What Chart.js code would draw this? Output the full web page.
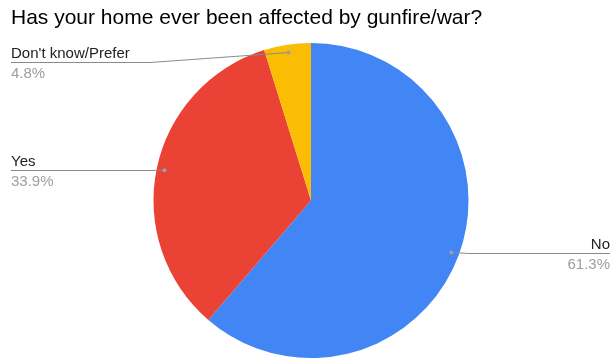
<!DOCTYPE html>
<html>
<head>
<meta charset="utf-8">
<script src="https://cdn.jsdelivr.net/npm/chart.js@4"></script>
<style>
  html, body { margin: 0; padding: 0; background: #fff; }
  #wrap { width: 611px; height: 360px; }
</style>
</head>
<body>
<div id="wrap"><canvas id="Chart"></canvas></div>
<script>
const labels = ['No', 'Yes', "Don't know/Prefer"];
const percents = [61.3, 33.9, 4.8];
const colors = ['#4285f4', '#ea4335', '#fbbc04'];

// leader lines + labels, google-sheets style
const leaderLabels = {
    id: 'leaderLabels',
    afterDatasetsDraw(chart) {
        const ctx = chart.ctx;
        const meta = chart.getDatasetMeta(0);
        const w = chart.width;
        ctx.save();
        meta.data.forEach((arc, i) => {
            const p = arc.getProps(['x', 'y', 'startAngle', 'endAngle', 'outerRadius'], true);
            const mid = (p.startAngle + p.endAngle) / 2;
            const r = p.outerRadius * 0.95;
            const dx = p.x + Math.cos(mid) * r;
            const dy = p.y + Math.sin(mid) * r;
            const left = Math.cos(mid) < 0;
            const ly = Math.round(Math.max(dy, 62)) + 0.5;
            const edge = left ? 11 : w - 1;
            const elbow = left ? Math.min(150, dx) : Math.max(470, dx);

            ctx.strokeStyle = '#8a8a8a';
            ctx.lineWidth = 1;
            ctx.beginPath();
            ctx.moveTo(edge, ly);
            ctx.lineTo(elbow, ly);
            ctx.lineTo(dx, dy);
            ctx.stroke();

            ctx.fillStyle = '#9e9e9e';
            ctx.beginPath();
            ctx.arc(dx, dy, 2, 0, Math.PI * 2);
            ctx.fill();

            ctx.textAlign = left ? 'left' : 'right';
            ctx.textBaseline = 'alphabetic';
            ctx.font = '15px "Liberation Sans", Arial, sans-serif';
            ctx.fillStyle = '#222';
            ctx.fillText(labels[i], edge, ly - 5);
            ctx.fillStyle = '#9e9e9e';
            ctx.fillText(percents[i].toFixed(1) + '%', edge, ly + 15);
        });
        ctx.restore();
    }
};

const ctx = document.getElementById('Chart');

new Chart(ctx, {
    type: 'pie',
    data: {
        labels: labels,
        datasets: [{
            data: percents,
            backgroundColor: colors,
            borderWidth: 0
        }]
    },
    options: {
        responsive: true,
        maintainAspectRatio: false,
        animation: false,
        layout: {
            padding: { top: 6, left: 11, right: 0, bottom: 2 }
        },
        plugins: {
            legend: { display: false },
            tooltip: { enabled: false },
            title: {
                display: true,
                text: 'Has your home ever been affected by gunfire/war?',
                align: 'start',
                color: '#000',
                font: { family: '"Liberation Sans", Arial, sans-serif', size: 21, weight: 'normal', lineHeight: 1.2 },
                padding: { top: 0, bottom: 11.8 }
            }
        }
    },
    plugins: [leaderLabels]
});
</script>
</body>
</html>
